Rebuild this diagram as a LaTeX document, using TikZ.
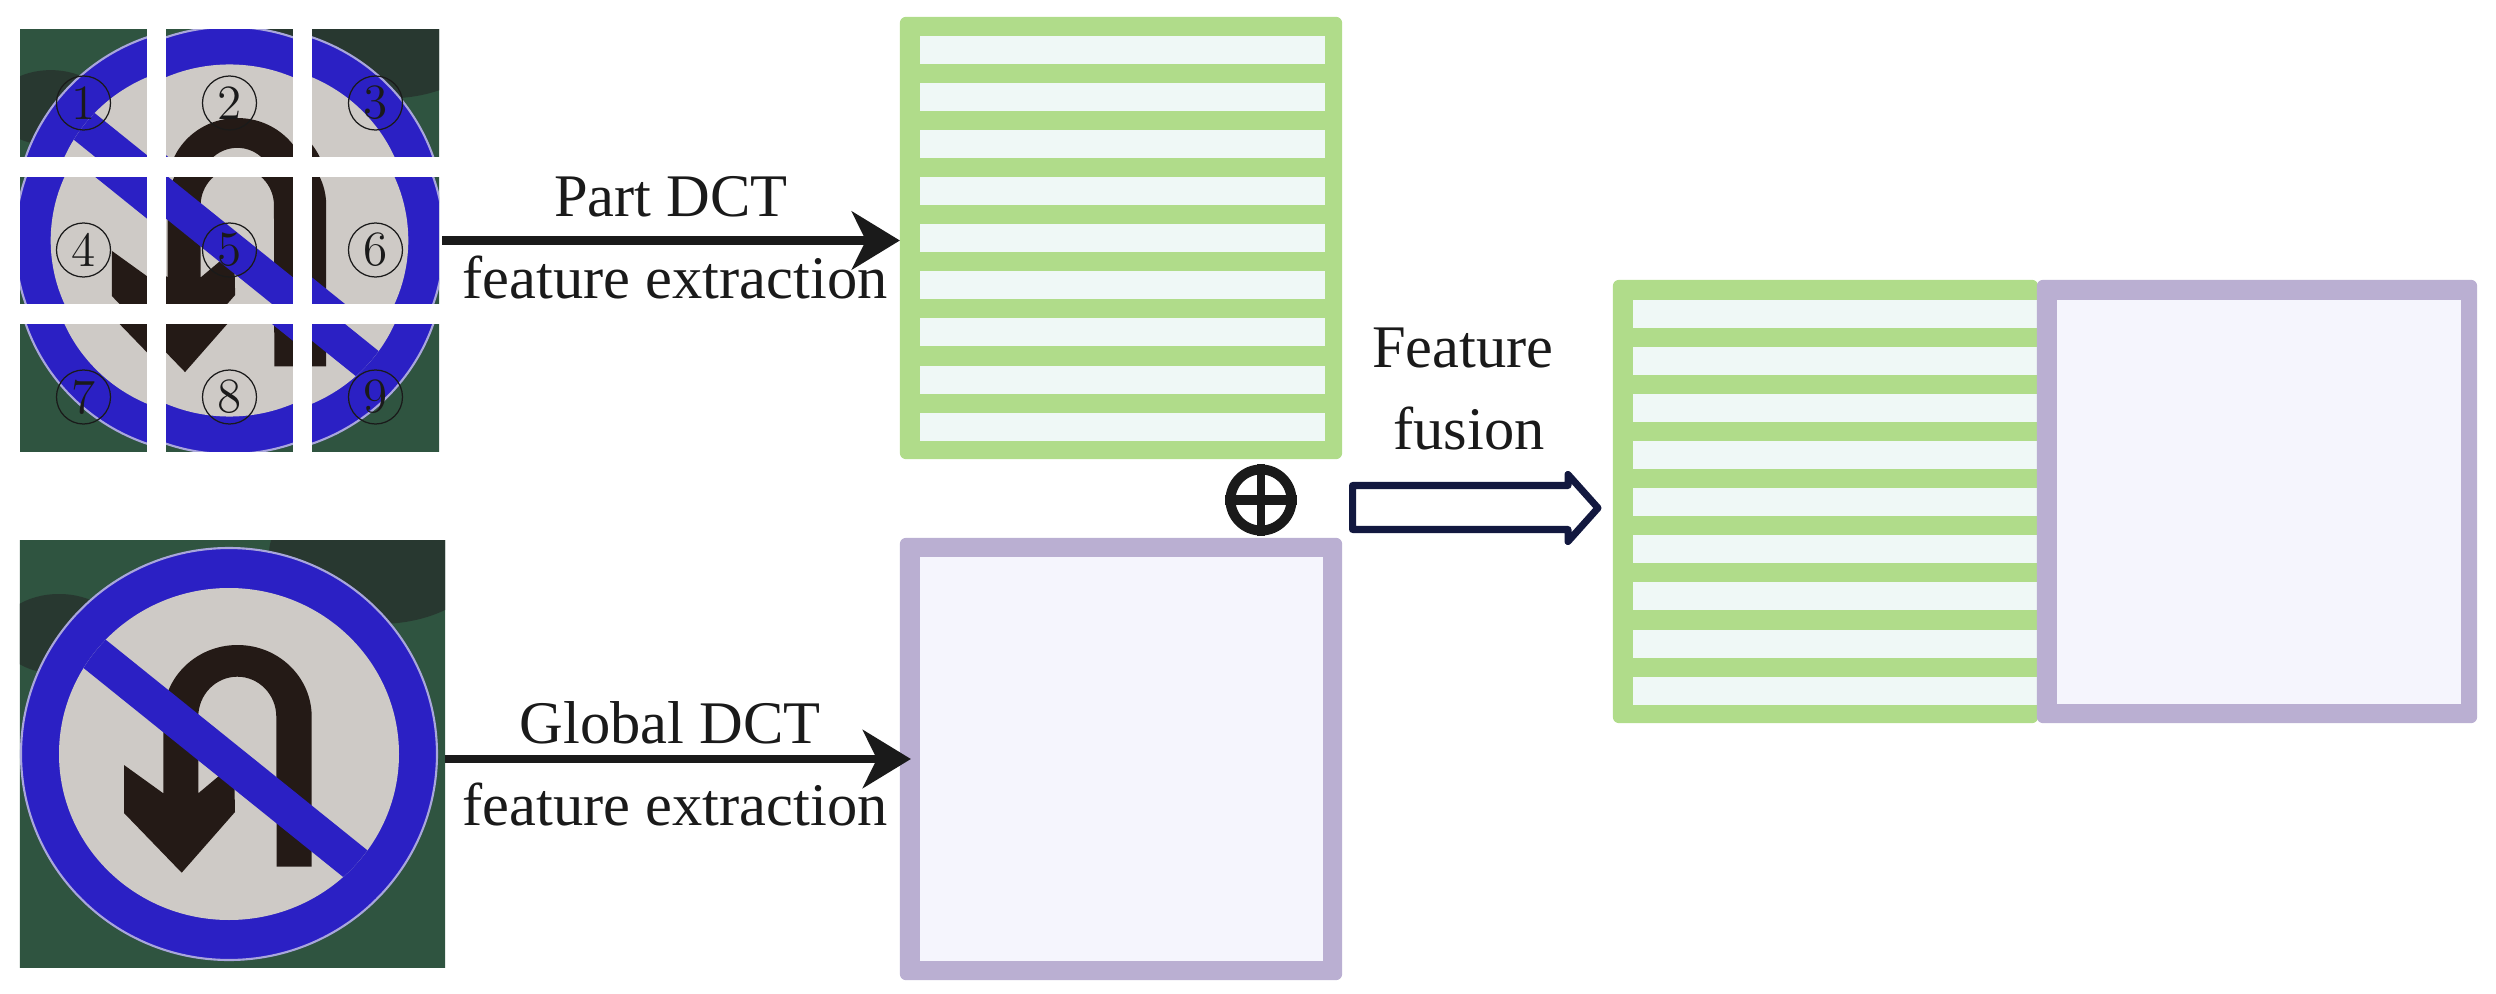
\documentclass[tikz,border=0pt]{standalone}
\usepackage{fontspec}
\newfontfamily\lblfont{Liberation Serif}
\usetikzlibrary{arrows.meta}

\definecolor{featgreen}{HTML}{B0DC8A}
\definecolor{stripefill}{HTML}{EFF8F6}
\definecolor{featpurple}{HTML}{BAAFD2}
\definecolor{featlav}{HTML}{F5F5FD}
\definecolor{navy}{HTML}{12183F}
\definecolor{txtblack}{HTML}{1A1A1A}
\definecolor{signbg}{HTML}{2F5440}
\definecolor{signbgdark}{HTML}{283830}
\definecolor{signblue}{HTML}{2B20C4}
\definecolor{signhalo}{HTML}{A9A6DC}
\definecolor{signwhite}{HTML}{CECAC6}
\definecolor{signblack}{HTML}{241A16}

% the no U-turn sign, centred at (0,0), pixel units
\newcommand{\drawsign}{%
  \fill[signbg] (-240,-240) rectangle (240,240);
  \fill[signbgdark] (150,-200) ellipse [x radius=110, y radius=70];
  \fill[signbgdark] (-170,-120) ellipse [x radius=60, y radius=40];
  \filldraw[fill=signblue, draw=signhalo, line width=0.6pt] (0,0) ellipse [x radius=208, y radius=206];
  \fill[signwhite] (0,0) ellipse [x radius=170, y radius=166];
  \fill[signblack] (-65.7,-37.3) -- (-65.7,39.3) -- (-105,11) -- (-105,59) -- (-47.3,118.7)
    -- (6,58) -- (5,9.3) -- (-30.7,39.3) -- (-30.7,-37.3)
    arc[start angle=180, end angle=360, x radius=39, y radius=40]
    -- (47.7,112.7) -- (82.7,112.7) -- (82.7,-37.3)
    arc[start angle=0, end angle=-180, x radius=74.2, y radius=71.7] -- cycle;
  \begin{scope}
    \clip (0,0) ellipse [x radius=170, y radius=166];
    \fill[signblue] (-213.8,-141) -- (191.2,185) -- (213.8,157) -- (-191.2,-169) -- cycle;
  \end{scope}
}

\tikzset{
  lbl/.style={font=\lblfont\fontsize{17.2}{20}\selectfont, text=txtblack, inner sep=0, anchor=base},
  numring/.style={circle, draw=txtblack, line width=0.35pt, minimum size=0.54cm, inner sep=0,
    text=txtblack, font=\fontsize{14}{16}\selectfont},
  featbox/.style={rectangle, inner sep=0, outer sep=0, rounded corners=0.6mm},
  dctarrow/.style={draw=txtblack, line width=0.08cm,
    -{Stealth[length=0.48cm, width=0.58cm, inset=0.14cm]}},
  fusearrow/.style={draw=navy, line width=0.07cm, line join=round, fill=white}
}

\begin{document}
\begin{tikzpicture}[x=0.01cm, y=-0.01cm]
  \useasboundingbox (0,0) rectangle (2496,994);

  % nine parts of the sign
  \node[inner sep=0, outer sep=0, minimum width=4.19cm, minimum height=4.21cm] (parts) at (229.5,240.5) {};
  \foreach \i in {0,1,2} {
    \foreach \j in {0,1,2} {
      \pgfmathsetmacro{\tx}{20+146*\i}
      \pgfmathsetmacro{\ty}{30+147*\j}
      \pgfmathsetmacro{\sx}{210.5+19*\i}
      \pgfmathsetmacro{\sy}{220.5+20*\j}
      \begin{scope}
        \clip (\tx,\ty) rectangle ++(127,127);
        \begin{scope}[shift={(\sx,\sy)}, scale=0.94]
          \drawsign
        \end{scope}
      \end{scope}
    }
  }
  % gaps between the parts
  \fill[white] (10,157) rectangle (450,177);
  \fill[white] (10,304) rectangle (450,324);
  \fill[white] (147,20) rectangle (166,460);
  \fill[white] (293,20) rectangle (312,460);
  \foreach \i in {0,1,2} {
    \foreach \j in {0,1,2} {
      \pgfmathtruncatemacro{\k}{3*\j+\i+1}
      \node[numring] (tile\k) at (83.5+146*\i, 103+147*\j) {\k};
    }
  }

  % global sign
  \node[inner sep=0, outer sep=0, minimum width=4.25cm, minimum height=4.26cm] (globimg) at (232.5,754) {};
  \begin{scope}
    \clip (globimg.north west) rectangle (globimg.south east);
    \begin{scope}[shift={(229,754)}]
      \drawsign
    \end{scope}
  \end{scope}

  % part feature
  \node[featbox, fill=featgreen, minimum size=4.42cm] (part) at (1121,238) {};
  \foreach \k in {0,...,8}
    \fill[stripefill] ([shift={(20,19+47.1*\k)}]part.north west) rectangle ++(405,28);

  % global feature
  \node[featbox, fill=featpurple, minimum size=4.42cm] (glob) at (1121,759) {};
  \fill[featlav] ([shift={(20,19)}]glob.north west) rectangle ([shift={(-19,-19)}]glob.south east);

  % fused feature
  \node[featbox, fill=featgreen, minimum width=4.25cm, minimum height=4.43cm] (fusegreen) at (1825.5,501.5) {};
  \foreach \k in {0,...,8}
    \fill[stripefill] ([shift={(20,20+47.1*\k)}]fusegreen.north west) rectangle ++(405,28);
  \node[featbox, fill=featpurple, minimum width=4.40cm, minimum height=4.43cm] (fusepurple) at (2257,501.5) {};
  \fill[featlav] ([shift={(20,20)}]fusepurple.north west) rectangle ([shift={(-16,-19)}]fusepurple.south east);

  % arrows
  \draw[dctarrow, shorten <=0.03cm] (parts.east) -- (parts.east -| part.west);
  \draw[dctarrow, shorten >=-0.11cm] (globimg.east |- glob.west) -- (glob.west);
  \node[lbl] (parttop) at (671,217) {Part DCT};
  \node[lbl] (partbot) at (675,299) {feature extraction};
  \node[lbl] (globtop) at (670,743) {Global DCT};
  \node[lbl] (globbot) at (675,825) {feature extraction};

  % concatenation
  \node[circle, draw=txtblack, line width=0.1cm, minimum size=0.61cm, inner sep=0] (plus) at (1261,500) {};
  \draw[txtblack, line width=0.09cm] (plus.west) -- (plus.east);
  \draw[txtblack, line width=0.08cm] (plus.north) -- (plus.south);

  \draw[fusearrow] (1352.5,485.5) -- (1568,485.5) -- (1568,474.5) -- (1598,508)
    -- (1568,541.5) -- (1568,529.5) -- (1352.5,529.5) -- cycle;
  \node[lbl] (fusetop) at (1463,367) {Feature};
  \node[lbl] (fusebot) at (1469,449) {fusion};
\end{tikzpicture}
\end{document}
